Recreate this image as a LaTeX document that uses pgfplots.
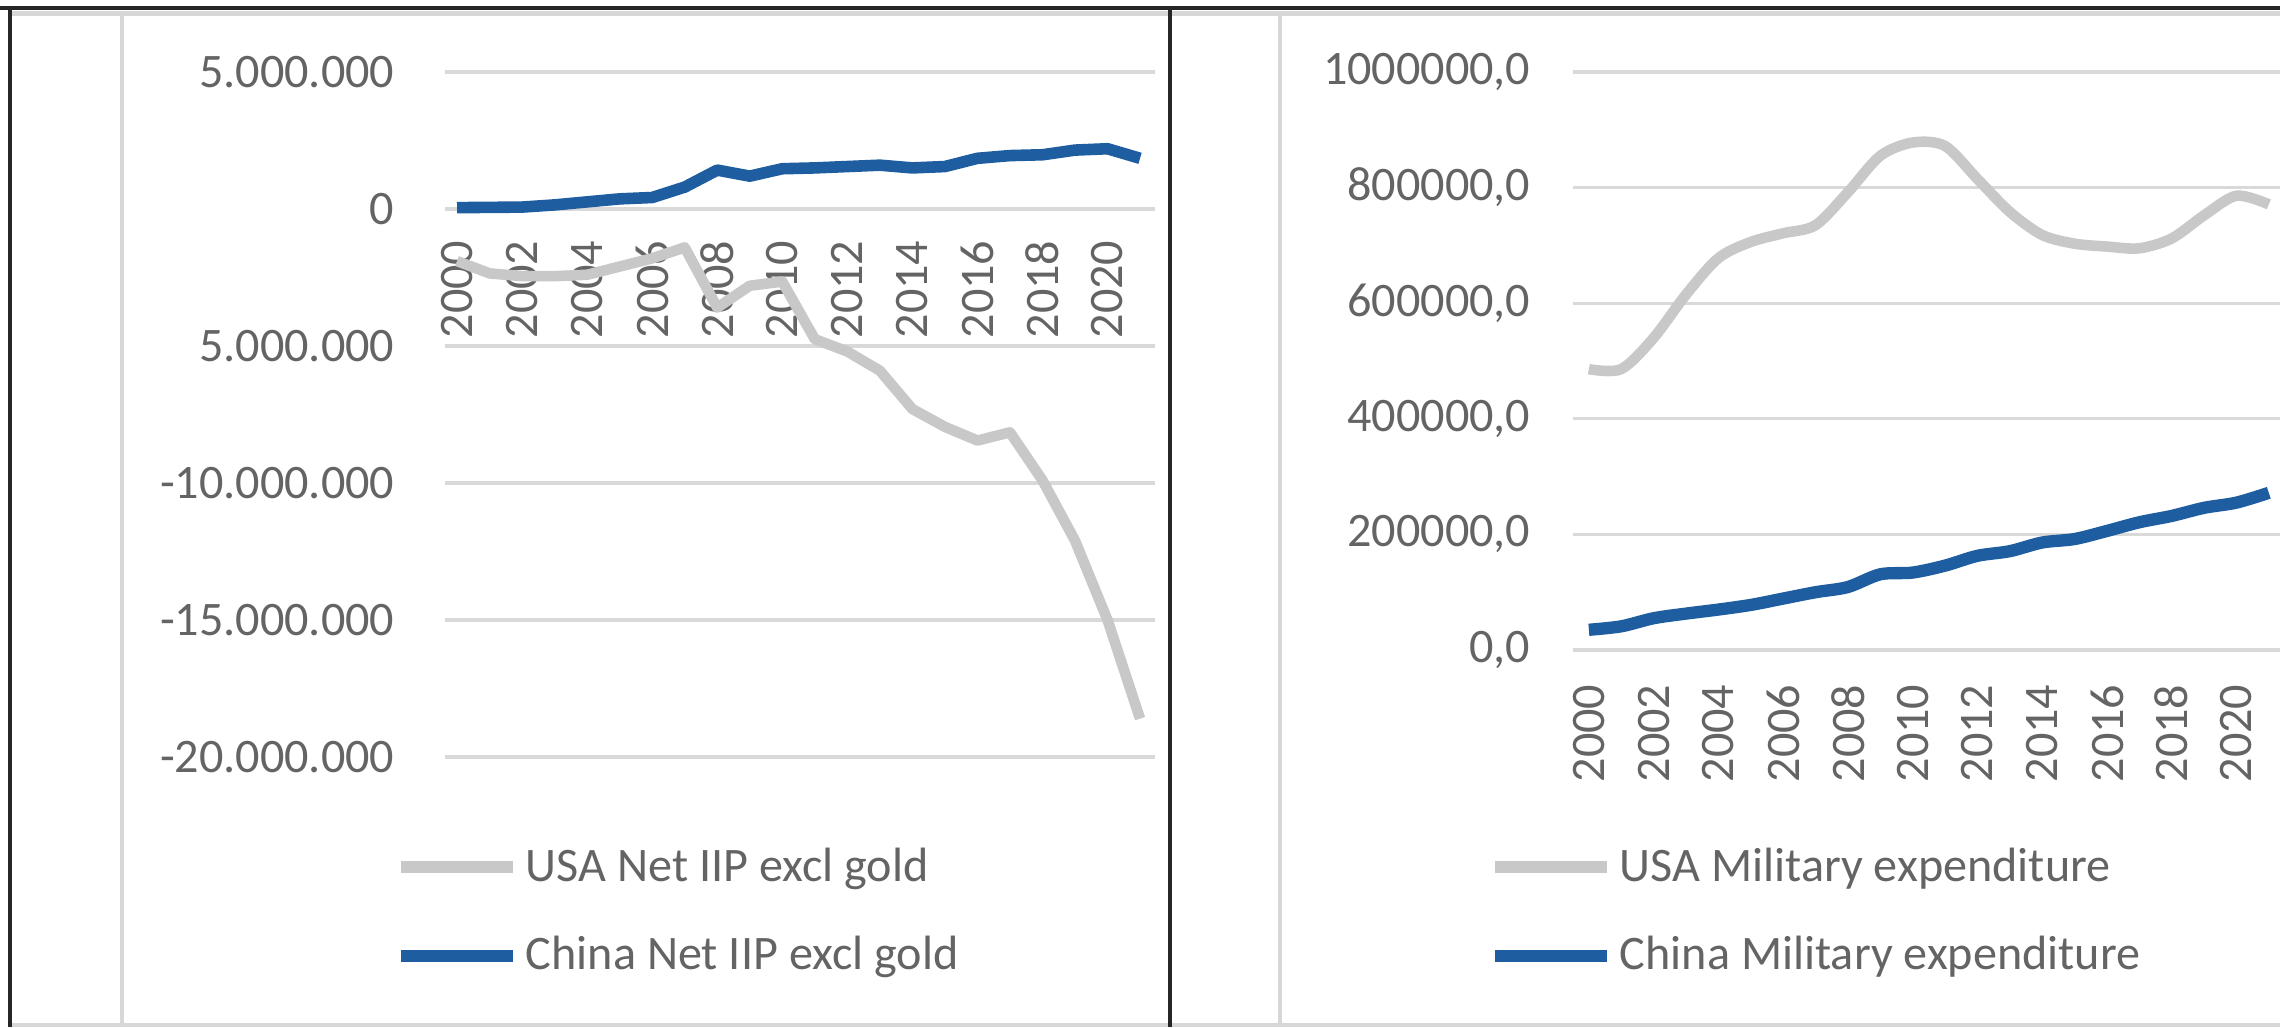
\documentclass[border=0pt]{standalone}
\usepackage{fontspec}
\setmainfont{Carlito}
\usepackage{pgfplots}
\pgfplotsset{compat=1.18}
\definecolor{gridc}{RGB}{217,217,217}
\definecolor{usac}{RGB}{200,200,200}
\definecolor{chinac}{RGB}{30,94,160}
\definecolor{txt}{RGB}{100,100,100}
\definecolor{framegrey}{RGB}{215,215,215}

\pgfplotstableread{
year usa china
2000 -1900000 50000
2001 -2350000 60000
2002 -2450000 70000
2003 -2450000 150000
2004 -2400000 260000
2005 -2100000 370000
2006 -1800000 420000
2007 -1400000 800000
2008 -3600000 1420000
2009 -2800000 1200000
2010 -2650000 1470000
2011 -4750000 1500000
2012 -5200000 1550000
2013 -5900000 1600000
2014 -7300000 1500000
2015 -7950000 1550000
2016 -8450000 1850000
2017 -8150000 1950000
2018 -9900000 1980000
2019 -12100000 2150000
2020 -15000000 2200000
2021 -18600000 1850000
}\iiptable

\pgfplotstableread{
year usa china
2000 486000 35000
2001 486000 41000
2002 540000 55000
2003 615000 63000
2004 678000 70000
2005 706000 78000
2006 721000 89000
2007 735000 100000
2008 792000 109000
2009 855000 131000
2010 878000 134000
2011 872000 146000
2012 815000 163000
2013 758000 171000
2014 718000 186000
2015 703000 192000
2016 698000 206000
2017 695000 221000
2018 712000 232000
2019 752000 246000
2020 786000 255000
2021 771000 272000
}\miltable

\pgfplotsset{
  excel/.style={
    scale only axis,
    clip=false,
    scaled y ticks=false,
    scaled x ticks=false,
    axis line style={draw=none},
    major tick length=0pt,
    tick style={draw=none},
    ymajorgrids,
    grid style={gridc, line width=0.9pt},
    tick label style={font=\fontsize{13.7}{16}\selectfont, text=txt},
    xticklabel style={rotate=90, anchor=east, inner sep=0pt},
    yticklabel style={anchor=east, inner sep=0pt},
    legend style={draw=none, fill=none, font=\fontsize{13.7}{16}\selectfont, text=txt,
      inner sep=0pt, outer sep=0pt, row sep=0.5cm, column sep=0.07cm,
      nodes={inner sep=0pt}},
    legend cell align=left,
    legend image code/.code={\draw[#1, line width=3.4pt, line cap=butt] (0cm,0cm) -- (1.12cm,0cm);},
    xtick={2000,2002,...,2020},
    xticklabels={2000,2002,2004,2006,2008,2010,2012,2014,2016,2018,2020},
  }
}

\begin{document}
\begin{tikzpicture}
\useasboundingbox (0,0) rectangle (22.8,-10.27);
\clip (0,0) rectangle (22.8,-10.27);
\fill[white] (0,0) rectangle (22.8,-10.27);
% frames
\draw[framegrey, line width=1.4pt] (0.1,-0.135) -- (22.8,-0.135);
\draw[framegrey, line width=1.0pt] (0.1,-10.25) -- (22.8,-10.25);
\draw[framegrey, line width=1.4pt] (1.22,-0.13) -- (1.22,-10.27);
\draw[framegrey, line width=1.4pt] (12.80,-0.13) -- (12.80,-10.27);
\draw[black!85, line width=1.1pt] (0,-0.08) -- (22.8,-0.08);
\draw[black!85, line width=1.1pt] (0.10,-0.08) -- (0.10,-10.27);
\draw[black!85, line width=1.1pt] (11.70,-0.08) -- (11.70,-10.27);

% left chart
\begin{axis}[excel,
  at={(4.45cm,-7.57cm)}, anchor=south west,
  width=7.10cm, height=6.85cm,
  xmin=1999.63, xmax=2021.46,
  ymin=-20000000, ymax=5000000,
  ytick={-20000000,-15000000,-10000000,-5000000,0,5000000},
  yticklabels={-20.000.000,-15.000.000,-10.000.000,5.000.000,0,5.000.000},
  axis x line*=middle, axis y line*=left,
  hide obscured x ticks=false, hide obscured y ticks=false,
  xticklabel shift=0.31cm, yticklabel shift=0.5cm,
  legend style={at={(axis description cs:-0.0704,-0.2255)}, anchor=west},
]
\addplot[usac, line width=3pt, line join=round] table[x=year, y=usa] {\iiptable};
\addlegendentry{USA Net IIP excl gold}
\addplot[chinac, line width=3.3pt, line join=round] table[x=year, y=china] {\iiptable};
\addlegendentry{China Net IIP excl gold}
\end{axis}

% right chart
\begin{axis}[excel,
  at={(15.73cm,-6.50cm)}, anchor=south west,
  width=7.12cm, height=5.78cm,
  xmin=1999.51, xmax=2021.5,
  ymin=0, ymax=1000000,
  ytick={0,200000,400000,600000,800000,1000000},
  yticklabels={{0,0},{200000,0},{400000,0},{600000,0},{800000,0},{1000000,0}},
  xticklabel shift=0.34cm, yticklabel shift=0.42cm,
  legend style={at={(axis description cs:-0.118,-0.4524)}, anchor=west},
]
\addplot[usac, line width=3pt, smooth, line join=round] table[x=year, y=usa] {\miltable};
\addlegendentry{USA Military expenditure}
\addplot[chinac, line width=3.5pt, smooth, line join=round] table[x=year, y=china] {\miltable};
\addlegendentry{China Military expenditure}
\end{axis}
\end{tikzpicture}
\end{document}
